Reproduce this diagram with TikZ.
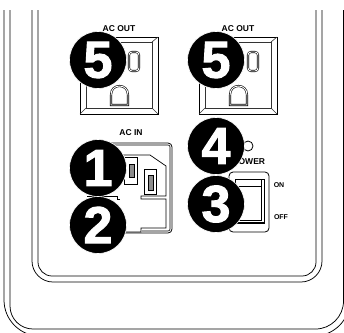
\documentclass[tikz,border=0pt]{standalone}
\usepackage{fontspec}
\setmainfont{Liberation Sans}
\newfontfamily\numfont[UprightFont=* Bold,FakeBold=2]{Liberation Sans}
\usepackage{tikz}
\usetikzlibrary{positioning}

\begin{document}
\begin{tikzpicture}[
  x=1pt, y=-1pt,
  every node/.style={font=\fontsize{8.5}{9}\selectfont\bfseries, inner sep=0pt},
  panel/.style={line width=0.75pt},
  part/.style={line width=0.8pt, fill=white},
  thin part/.style={line width=0.6pt, black!80},
  small/.style={font=\fontsize{7}{8}\selectfont\bfseries},
  badge/.style={circle, fill=black, draw=white, line width=0.6pt, minimum size=57pt,
                text=white, font=\fontsize{52}{52}\numfont},
]
  \useasboundingbox (0,0) rectangle (344,332);
  \clip (0,0) rectangle (344,332);

  % panel edges
  \draw[panel] (4,10) [rounded corners=36pt] -- (4,336) -- (350,336) -- (350,10);
  \draw[panel] (10,10) [rounded corners=23pt] -- (10,329) [rounded corners=28pt] -- (343.5,329) -- (343.5,10);
  \draw[panel] (32,10) [rounded corners=21pt] -- (32,282) -- (322,282) -- (322,10);
  \draw[panel] (38,10) [rounded corners=14pt] -- (38,276) -- (316,276) -- (316,10);

  % outlets
  \foreach \dx in {0,119} {
    \begin{scope}[xshift=\dx pt]
      \draw[part] (80,37) rectangle (158,114);
      \draw[thin part] (86,42) rectangle (152,108);
      \draw[thin part] (80,37) -- (86,42) (158,37) -- (152,42) (80,114) -- (86,108) (158,114) -- (152,108);
      \draw[part, double=white, double distance=0.9pt, line width=0.6pt, rounded corners=3pt] (129,52) rectangle (139,71);
      \draw[part, double=white, double distance=0.9pt, line width=0.6pt] (111,105) -- (111,95)
        .. controls (111,89) and (115,86) .. (119.5,86) .. controls (124,86) and (128,89) .. (128,95) -- (128,105) -- cycle;
    \end{scope}
  }
  \node (outa) at (119,29) {AC OUT};
  \node (outb) at (238,29) {AC OUT};

  % inlet
  \node (acin) at (131,133) {AC IN};
  \draw[part, rounded corners=4pt] (85,143) -- (172,143) -- (172,233) -- (85,233);
  \draw[line width=0.6pt, rounded corners=2pt] (85,145) -- (170,145) -- (170,231) -- (142,231);
  \draw[line width=0.7pt] (123,155) -- (150,155) -- (166,166) -- (166,196) -- (141,196)
    -- (141,199) -- (166,199) -- (166,228) -- (141,228) -- (141,232) -- (120,232);
  \draw[line width=1pt] (87,196) -- (117,196) -- (117,199) -- (120,199);
  \draw[part] (124,157) rectangle (137,184);
  \draw[line width=0.7pt, fill=black!45] (129,164) rectangle (134,177);
  \draw[part] (144,169) rectangle (156,194);
  \draw[line width=0.7pt, fill=black!45] (148,175) rectangle (153,190);

  % led and switch
  \draw[line width=0.8pt] (248,146) circle (5);
  \node (power) at (249,162) {POWER};
  \draw[part, rounded corners=4pt] (229,172) rectangle (269,232);
  \draw[line width=0.8pt] (235,179) rectangle (264,223);
  \draw[line width=0.6pt] (235,186) -- (261,186) (261,179) -- (261,220) -- (235,220);
  \draw[line width=1.4pt] (235,222.5) -- (264,222.5);
  \node[small] (on) at (279,185) {ON};
  \node[small] (off) at (281,217) {OFF};

  % numbers
  \node[badge] (fivea) at (98,60) {5};
  \node[badge] (fiveb) at (216,60) {5};
  \node[badge] (four) at (216,146) {4};
  \node[badge] (three) at (216,204) {3};
  \node[badge] (one) at (98,168) {1};
  \node[badge] (two) at (98,225) {2};
\end{tikzpicture}
\end{document}
